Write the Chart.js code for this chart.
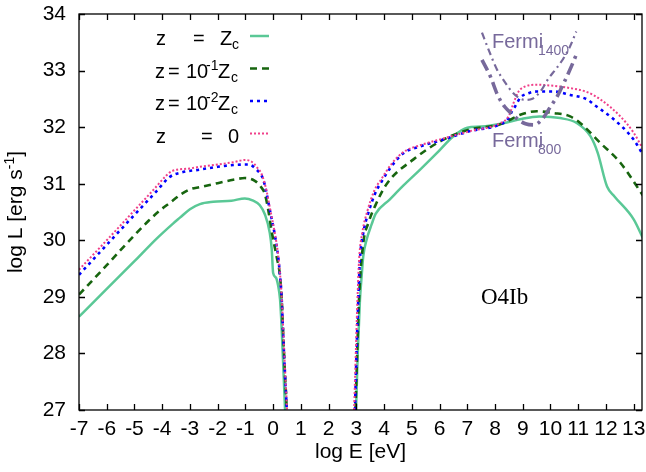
<!DOCTYPE html>
<html>
<head>
<meta charset="utf-8">
<script src="https://cdn.jsdelivr.net/npm/chart.js@4.4.1/dist/chart.umd.min.js"></script>
<style>
  html, body { margin: 0; padding: 0; background: #fff; }
</style>
</head>
<body>
<canvas id="chart" width="646" height="472"></canvas>
<script>
// log E [eV] / log L [erg s^-1]; null = gap between the two humps
const zcE   = [-7, -6, -5, -4.2, -3.6, -3.36, -3.0, -2.64, -2.16, -1.5, -1.02, -0.72, -0.48, -0.3, -0.12, -0.05, 0.0, 0.1, 0.18, 0.25, 0.31, 0.36, 0.43, 0.46,
               1.5,
               2.99, 3.05, 3.13, 3.19, 3.25, 3.37, 3.55, 3.7, 4.2, 4.7, 5.3, 5.9, 6.5, 7.0, 7.5, 8.3, 8.9, 9.6, 10.35, 10.96, 11.44, 11.7, 12.04, 12.3, 13.0, 13.35]
const zcL   = [28.65, 29.14, 29.63, 30.03, 30.3, 30.4, 30.55, 30.64, 30.68, 30.7, 30.74, 30.7, 30.62, 30.46, 30.13, 29.84, 29.42, 29.34, 29.2, 28.95, 28.42, 27.83, 27.0, 26.5,
               null,
               27.0, 28.0, 28.95, 29.36, 29.72, 30.01, 30.28, 30.47, 30.72, 30.97, 31.25, 31.54, 31.84, 31.99, 32.01, 32.07, 32.14, 32.19, 32.16, 32.07, 31.84, 31.55, 30.95, 30.78, 30.37, 30.02]

const z1E   = [-7, -6, -5, -4.5, -4.1, -3.73, -3.3, -3.0, -2.64, -2.0, -1.44, -1.02, -0.66, -0.45, -0.3, -0.18, -0.05, 0.13, 0.25, 0.31, 0.36, 0.43, 0.49, 0.52,
               1.5,
               2.97, 3.03, 3.1, 3.25, 3.43, 3.67, 4.1, 5.06, 6.14, 7.1, 8.19, 8.55, 8.91, 9.51, 10.11, 10.71, 11.08, 11.8, 12.52, 13.35]
const z1L   = [29.04, 29.56, 30.09, 30.34, 30.52, 30.66, 30.82, 30.9, 30.94, 31.01, 31.07, 31.1, 31.05, 30.95, 30.82, 30.55, 30.15, 29.7, 29.36, 28.95, 28.38, 27.6, 27.0, 26.5,
               null,
               27.0, 28.0, 29.0, 29.95, 30.3, 30.6, 31.0, 31.43, 31.78, 31.96, 32.05, 32.13, 32.22, 32.28, 32.25, 32.19, 32.07, 31.72, 31.37, 30.78]

const z2E   = [-7, -6, -5, -4.2, -3.73, -3.3, -2.64, -2.0, -1.44, -0.9, -0.6, -0.36, -0.24, -0.12, 0.07, 0.18, 0.25, 0.31, 0.36, 0.43, 0.49, 0.52,
               1.5,
               2.95, 3.01, 3.07, 3.13, 3.25, 3.43, 3.67, 3.9, 4.3, 4.7, 5.3, 6.14, 7.1, 8.19, 8.49, 8.61, 8.73, 8.91, 9.21, 9.51, 10.11, 10.71, 11.32, 11.56, 12.28, 13.0, 13.35]
const z2L   = [29.39, 29.92, 30.45, 30.87, 31.12, 31.2, 31.25, 31.3, 31.33, 31.34, 31.25, 31.08, 30.84, 30.54, 30.07, 29.72, 29.36, 28.95, 28.36, 27.6, 27.0, 26.5,
               null,
               27.0, 28.07, 28.95, 29.66, 30.13, 30.48, 30.82, 31.03, 31.33, 31.54, 31.66, 31.78, 31.93, 32.05, 32.16, 32.28, 32.37, 32.52, 32.6, 32.63, 32.63, 32.57, 32.49, 32.4, 32.14, 31.78, 31.5]

const z0E   = [-7, -6, -5, -4.3, -3.9, -3.66, -3.0, -2.64, -2.0, -1.44, -1.0, -0.75, -0.6, -0.4, -0.24, -0.12, 0.07, 0.18, 0.25, 0.31, 0.37, 0.44, 0.5, 0.53,
               1.5,
               2.92, 2.98, 3.04, 3.1, 3.22, 3.4, 3.65, 3.9, 4.3, 4.7, 5.3, 6.14, 7.1, 8.19, 8.5, 8.67, 8.85, 9.09, 9.51, 10.11, 10.71, 11.32, 11.8, 12.52, 13.0, 13.35]
const z0L   = [29.48, 30.0, 30.53, 30.9, 31.12, 31.22, 31.27, 31.3, 31.34, 31.38, 31.42, 31.38, 31.3, 31.15, 30.88, 30.58, 30.1, 29.75, 29.4, 28.98, 28.36, 27.6, 27.0, 26.5,
               null,
               27.0, 28.0, 28.95, 29.66, 30.15, 30.52, 30.88, 31.08, 31.37, 31.56, 31.68, 31.8, 31.93, 32.07, 32.2, 32.43, 32.63, 32.72, 32.75, 32.73, 32.69, 32.62, 32.49, 32.19, 31.9, 31.6]

const fermi800E  = [7.53, 7.83, 8.1, 8.35, 8.6, 8.85, 9.1, 9.4, 9.7, 10.0, 10.25, 10.5, 10.75, 10.93]
const fermi800L  = [33.19, 32.9, 32.56, 32.36, 32.24, 32.13, 32.06, 32.04, 32.14, 32.36, 32.55, 32.8, 33.07, 33.28]
const fermi1400E = [7.53, 7.8, 8.07, 8.35, 8.6, 8.85, 9.1, 9.35, 9.65, 9.93, 10.2, 10.45, 10.7, 10.93]
const fermi1400L = [33.67, 33.33, 33.02, 32.8, 32.63, 32.52, 32.48, 32.5, 32.64, 32.86, 33.03, 33.2, 33.42, 33.69]

const xTicks = { min: -7, max: 13.3, step: 1 }
const yTicks = { min: 27, max: 34, step: 1 }

const FAM = '"Liberation Sans Narrow", "Liberation Sans", Arial, sans-serif'
const SIZE = 21
const SMALL = 14

const GREEN = '#5ac896'
const DKGREEN = '#17650f'
const BLUE = '#0000ff'
const PINK = '#f0408a'
const FERMI = '#77699b'

const pts = (xs, ys) => xs.map((x, i) => ({ x, y: ys[i] }))

const series = [
  { label: 'Fermi800', data: pts(fermi800E, fermi800L), borderColor: FERMI, borderWidth: 3.6, borderDash: [12, 5, 3, 5] },
  { label: 'Fermi1400', data: pts(fermi1400E, fermi1400L), borderColor: FERMI, borderWidth: 2.2, borderDash: [7, 4, 2, 4] },
  { label: 'z = 0', data: pts(z0E, z0L), borderColor: PINK, borderWidth: 2, borderDash: [2, 2] },
  { label: 'z = 1e-2 Zc', data: pts(z2E, z2L), borderColor: BLUE, borderWidth: 2.6, borderDash: [3, 4] },
  { label: 'z = 1e-1 Zc', data: pts(z1E, z1L), borderColor: DKGREEN, borderWidth: 2.6, borderDash: [7, 5] },
  { label: 'z = Zc', data: pts(zcE, zcL), borderColor: GREEN, borderWidth: 2.5 }
]

// legend rows: pieces of rich text + line sample style
const legendRows = [
  { y: 36, style: series[5], parts: [['z', 156, 0], ['=', 193, 0], ['Z', 220, 0], ['c', 232, 1]] },
  { y: 68.5, style: series[4], parts: [['z', 155, 0], ['=', 168, 0], ['10', 186, 0], ['-1', 206, -1], ['Z', 218, 0], ['c', 231, 1]] },
  { y: 101, style: series[3], parts: [['z', 155, 0], ['=', 168, 0], ['10', 186, 0], ['-2', 206, -1], ['Z', 218, 0], ['c', 231, 1]] },
  { y: 133.5, style: series[2], parts: [['z', 156, 0], ['=', 201, 0], ['0', 228, 0]] }
]

const decor = {
  id: 'decor',
  afterDraw(chart) {
    const { ctx, chartArea: a, scales: { x, y } } = chart
    ctx.save()

    // frame + inward ticks on all four sides
    ctx.strokeStyle = '#000'
    ctx.lineWidth = 1.3
    ctx.strokeRect(a.left, a.top, a.right - a.left, a.bottom - a.top)
    ctx.beginPath()
    x.ticks.forEach(t => {
      const px = Math.round(x.getPixelForValue(t.value)) + 0.5
      ctx.moveTo(px, a.bottom); ctx.lineTo(px, a.bottom - 6)
      ctx.moveTo(px, a.top); ctx.lineTo(px, a.top + 6)
    })
    y.ticks.forEach(t => {
      const py = Math.round(y.getPixelForValue(t.value)) + 0.5
      ctx.moveTo(a.left, py); ctx.lineTo(a.left + 6, py)
      ctx.moveTo(a.right, py); ctx.lineTo(a.right - 6, py)
    })
    ctx.stroke()

    // legend
    ctx.fillStyle = '#000'
    ctx.textBaseline = 'alphabetic'
    legendRows.forEach(row => {
      const base = row.y + 9
      row.parts.forEach(([txt, px, shift]) => {
        ctx.font = (shift ? SMALL : SIZE - 1) + 'px ' + FAM
        ctx.fillText(txt, px, base + (shift < 0 ? -8 : shift > 0 ? 4 : 0))
      })
      ctx.beginPath()
      ctx.strokeStyle = row.style.borderColor
      ctx.lineWidth = row.style.borderWidth
      ctx.setLineDash(row.style.borderDash || [])
      ctx.moveTo(250, row.y); ctx.lineTo(269, row.y)
      ctx.stroke()
      ctx.setLineDash([])
    })

    // Fermi labels
    ctx.fillStyle = FERMI
    ctx.font = (SIZE - 1) + 'px ' + FAM
    ctx.fillText('Fermi', 492, 48)
    ctx.fillText('Fermi', 492, 147)
    ctx.font = SMALL + 'px ' + FAM
    ctx.fillText('1400', 538, 55)
    ctx.fillText('800', 538, 154)

    // star label
    ctx.fillStyle = '#000'
    ctx.font = '23px "Liberation Serif", "Times New Roman", serif'
    ctx.fillText('O4Ib', 481, 304)

    // y title with superscript
    ctx.translate(22, 212)
    ctx.rotate(-Math.PI / 2)
    ctx.font = SIZE + 'px ' + FAM
    const w1 = ctx.measureText('log L [erg s').width
    const w3 = ctx.measureText(']').width
    ctx.font = SMALL + 'px ' + FAM
    const w2 = ctx.measureText('-1').width
    let lx = -(w1 + w2 + w3) / 2
    ctx.font = SIZE + 'px ' + FAM
    ctx.fillText('log L [erg s', lx, 0)
    lx += w1
    ctx.font = SMALL + 'px ' + FAM
    ctx.fillText('-1', lx, -8)
    lx += w2
    ctx.font = SIZE + 'px ' + FAM
    ctx.fillText(']', lx, 0)

    ctx.restore()
  }
}

const tickFont = { family: FAM, size: SIZE }

// fixed axis sizes, and no extra room for overhanging end labels
const fitX = s => { s.height = 62; s.paddingLeft = 0; s.paddingRight = 0 }
const fitY = s => { s.width = 79; s.paddingTop = 0; s.paddingBottom = 0 }

new Chart(document.getElementById('chart'), {
  type: 'line',
  data: {
    datasets: series.map(s => ({
      ...s,
      fill: false,
      pointRadius: 0,
      clip: 0,
      cubicInterpolationMode: 'monotone'
    }))
  },
  options: {
    responsive: false,
    animation: false,
    layout: { padding: { top: 14, right: 4, left: 0, bottom: 0 } },
    plugins: { legend: { display: false }, tooltip: { enabled: false } },
    scales: {
      x: {
        type: 'linear',
        min: xTicks.min,
        max: xTicks.max,
        afterFit: fitX,
        grid: { display: false, drawTicks: false },
        border: { display: false },
        ticks: { stepSize: xTicks.step, includeBounds: false, padding: 7, color: '#000', font: tickFont, maxRotation: 0, autoSkip: false },
        title: { display: true, text: 'log E [eV]', color: '#000', font: tickFont, padding: { top: 0, bottom: 7 } }
      },
      y: {
        type: 'linear',
        min: yTicks.min,
        max: yTicks.max,
        afterFit: fitY,
        grid: { display: false, drawTicks: false },
        border: { display: false },
        ticks: { stepSize: yTicks.step, padding: 13, color: '#000', font: tickFont }
      }
    }
  },
  plugins: [decor]
})
</script>
</body>
</html>
